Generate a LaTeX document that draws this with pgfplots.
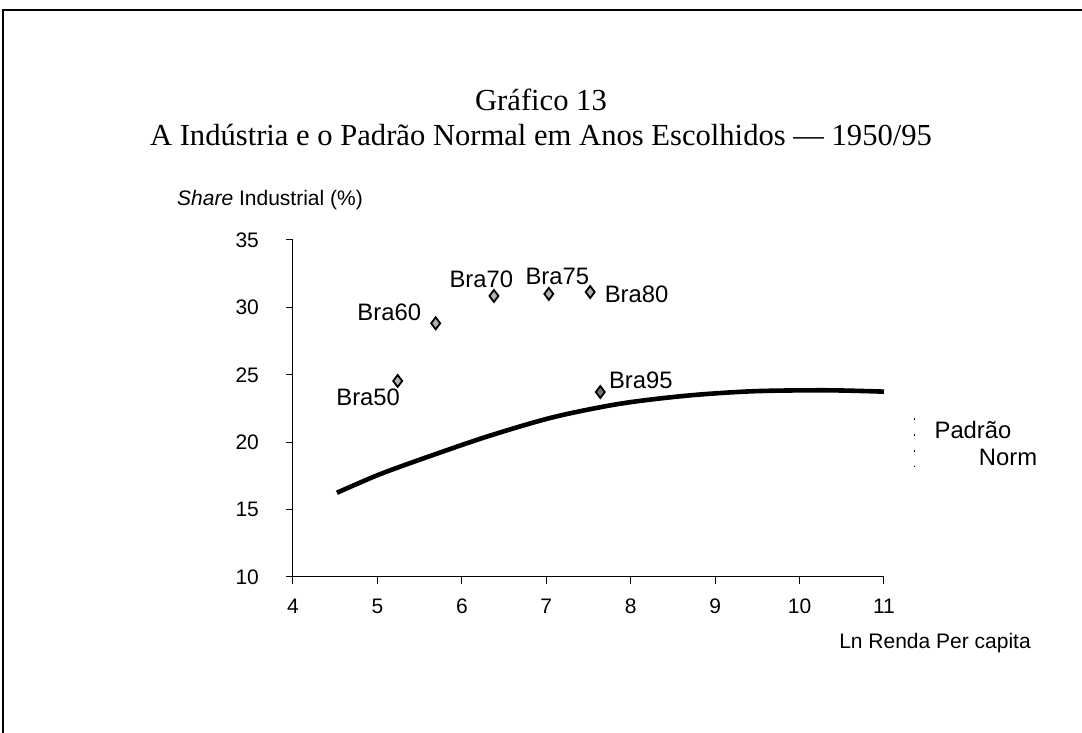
\documentclass[border=0pt]{standalone}
\usepackage{fontspec}
\setmainfont{Liberation Serif}
\newfontfamily\arial{Liberation Sans}
\usepackage{pgfplots}
\pgfplotsset{compat=1.18}

% points (ln income per capita, industrial share %)
\pgfplotstableread{
x     y
5.24  24.54
5.69  28.82
6.38  30.85
7.03  31.00
7.52  31.14
}\brapts
\pgfplotstableread{
x     y
7.64  23.72
}\brafin
\pgfplotstableread{
x      y
4.52   16.25
5.00   17.55
5.50   18.70
6.29   20.40
7.08   21.85
7.87   22.85
8.66   23.45
9.45   23.78
10.32  23.85
11.00  23.75
}\normal

\begin{document}
\begin{tikzpicture}[x=1pt,y=1pt]
\useasboundingbox (-146.5,-78) rectangle (394.5,288.5);
% frame (only top and left edges survive in the original)
\draw[line width=0.6pt] (-145,-78) -- (-145,283.5) -- (394.5,283.5);
\node[font=\fontsize{15.3}{17}\selectfont] at (124,238.5) {Gráfico 13};
\node[font=\fontsize{15.3}{17}\selectfont] at (124,221) {A Indústria e o Padrão Normal em Anos Escolhidos — 1950/95};
\begin{axis}[
    at={(0,0)}, anchor=south west,
    scale only axis, width=295.5pt, height=168.5pt,
    xmin=4, xmax=11, ymin=10, ymax=35,
    axis x line*=bottom, axis y line*=left,
    xtick={4,...,11}, ytick={10,15,...,35},
    tick align=outside, major tick length=3.5pt,
    tick style={black, line width=0.5pt},
    axis line style={black, line width=0.5pt},
    ticklabel style={font=\arial\fontsize{10.5}{12}\selectfont},
    /pgf/number format/assume math mode=true,
    yticklabel style={xshift=-10pt},
    xticklabel style={yshift=-4pt},
    clip=false,
]
\addplot[black, line width=2.3pt, smooth] table[x=x,y=y] {\normal};
\addplot[only marks, mark=diamond*, mark size=3pt,
    mark options={fill=black!30, draw=black, line width=0.9pt}] table[x=x,y=y] {\brapts};
\addplot[only marks, mark=diamond*, mark size=3pt,
    mark options={fill=black!55, draw=black, line width=0.9pt}] table[x=x,y=y] {\brafin};
\begin{scope}[every node/.style={font=\arial\fontsize{11.9}{13}\selectfont}]
\node at (axis cs:4.89,23.35) {Bra50};
\node at (axis cs:5.14,29.66) {Bra60};
\node at (axis cs:6.23,32.11) {Bra70};
\node at (axis cs:7.13,32.33) {Bra75};
\node at (axis cs:8.07,31.00) {Bra80};
\node at (axis cs:8.12,24.61) {Bra95};
\end{scope}
\end{axis}
\begin{scope}[font=\arial\fontsize{10.5}{12}\selectfont]
\node at (-11.5,188.5) {\textit{Share} Industrial (\%)};
\node at (321,-33) {Ln Renda Per capita};
\end{scope}
\begin{scope}[font=\arial\fontsize{11.9}{13}\selectfont]
\node at (340,73.5) {Padrão};
\node at (357.5,60) {Norm};
\end{scope}
\draw[black, line width=0.4pt, dash pattern=on 1pt off 7pt] (310.5,79.5) -- (310.5,55);
\end{tikzpicture}
\end{document}
